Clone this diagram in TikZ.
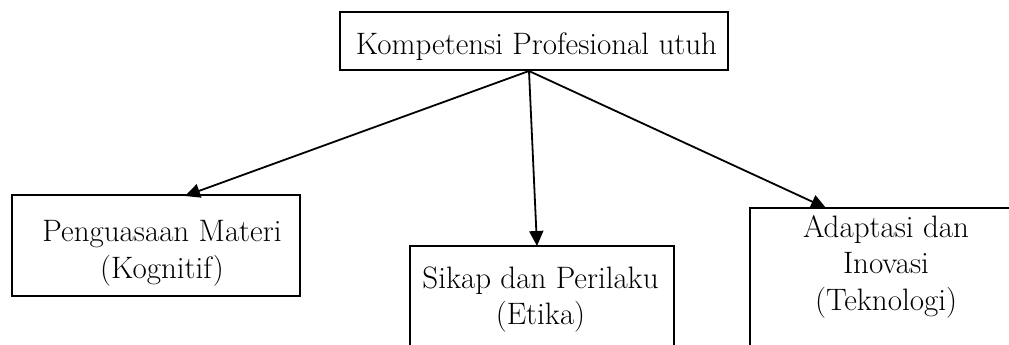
\documentclass[tikz,border=0pt]{standalone}
\usetikzlibrary{arrows.meta,calc}
\begin{document}
\begin{tikzpicture}[x=1pt,y=1pt,
  box/.style={draw=black,line width=2pt,rectangle,inner sep=0pt},
  txt/.style={align=center,inner sep=0pt,font=\fontsize{31}{36.5}\selectfont},
  conn/.style={line width=1.8pt,-{Triangle[length=15pt,width=14pt]}}]
\useasboundingbox (0,0) rectangle (1009,345);
\clip (0,0) rectangle (1009,345);
% boxes
\node[box,minimum width=388pt,minimum height=58pt] (top) at (534,304) {};
\node[box,minimum width=288pt,minimum height=101pt] (left) at (156,99.5) {};
\node[box,minimum width=264pt,minimum height=140pt] (mid) at (542,29) {};
\node[box,minimum width=320pt,minimum height=220pt] (right) at (910,27) {};
% texts
\node[txt] (toptxt) at (536.5,298) {Kompetensi Profesional utuh};
\node[txt] (lefttxt) at (162,91.5) {Penguasaan Materi\\(Kognitif)};
\node[txt] (midtxt) at (540.5,45.5) {Sikap dan Perilaku\\(Etika)};
\node[txt] (righttxt) at (886,78.5) {Adaptasi dan\\Inovasi\\(Teknologi)};
% connectors
\coordinate (apex) at ([xshift=-5pt]top.south);
\coordinate (lt) at (185,149);
\coordinate (mt) at (537,99);
\coordinate (rt) at (826,137);
\draw[conn] (apex) -- (lt);
\draw[conn] (apex) -- (mt);
\draw[conn] (apex) -- (rt);
\end{tikzpicture}
\end{document}
